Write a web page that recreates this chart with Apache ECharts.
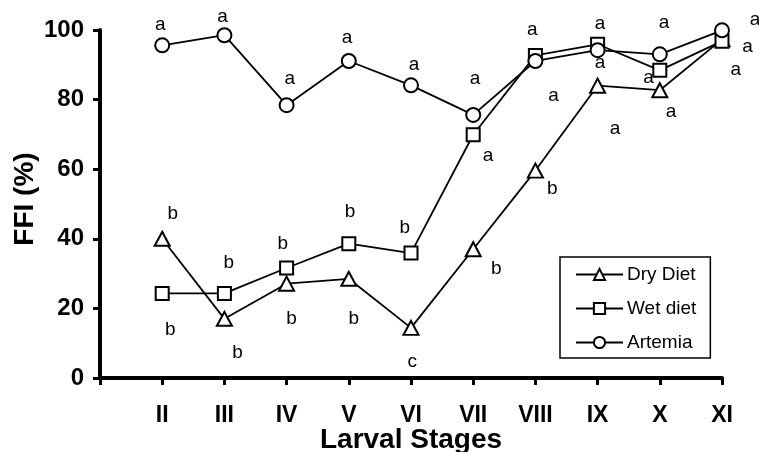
<!DOCTYPE html>
<html>
<head>
<meta charset="utf-8">
<script src="https://cdn.jsdelivr.net/npm/echarts@6/dist/echarts.min.js"></script>
<style>html,body{margin:0;padding:0;background:#fff}#c{width:759px;height:452px}</style>
</head>
<body>
<div id="c"></div>
<script>
var stages = ['II','III','IV','V','VI','VII','VIII','IX','X','XI'];
var stagePos = [2,3,4,5,6,7,8,9,10,11];
var yTicks = [0,20,40,60,80,100];
var dryDiet = [40.0, 17.0, 27.1, 28.5, 14.4, 37.0, 59.6, 84.0, 82.7, 97.3];
var wetDiet = [24.3, 24.3, 31.6, 38.6, 35.9, 69.9, 92.7, 95.9, 88.4, 96.8];
var artemia = [95.6, 98.5, 78.4, 91.1, 84.1, 75.6, 91.1, 94.2, 93.0, 99.9];
// significance letters: [stage position, FFI value, letter]
var letterMarks = [
  [1.97,101.6,'a'],[2.97,103.7,'a'],[4.05,86.1,'a'],[4.97,97.8,'a'],[6.05,90.1,'a'],
  [7.03,85.9,'a'],[7.95,100.1,'a'],[9.04,101.8,'a'],[9.04,90.5,'a'],[10.07,102.0,'a'],
  [9.82,86.2,'a'],[11.53,102.8,'a'],[11.41,95.1,'a'],[11.22,88.5,'a'],[7.24,63.8,'a'],
  [8.29,81.1,'a'],[9.28,71.5,'a'],[10.18,76.5,'a'],
  [8.27,54.5,'b'],[7.37,31.3,'b'],[5.90,43.1,'b'],[6.02,4.8,'c'],[2.17,47.3,'b'],
  [5.02,47.9,'b'],[3.94,38.6,'b'],[3.07,33.2,'b'],[2.13,13.8,'b'],[3.21,7.2,'b'],
  [4.08,17.0,'b'],[5.08,17.0,'b']
];

function pair(vals){ return vals.map(function(v,i){ return [stagePos[i], v]; }); }
var FONT = 'Liberation Sans, Arial, sans-serif';
var chart = echarts.init(document.getElementById('c'));
var lineCommon = {
  type:'line', symbolSize:14, showSymbol:true,
  lineStyle:{color:'#000', width:1.8},
  itemStyle:{color:'#fff', borderColor:'#000', borderWidth:2},
  emphasis:{disabled:true}, animation:false
};
chart.setOption({
  backgroundColor:'#fff',
  animation:false,
  grid:{left:100, right:37, top:30, bottom:74, containLabel:false, outerBoundsMode:'none'},
  legend:{
    orient:'vertical', left:560, top:257,
    padding:[8,14,6,15], itemGap:15, itemWidth:47, itemHeight:14,
    borderColor:'#000', borderWidth:1.5, backgroundColor:'#fff',
    textStyle:{fontFamily:FONT, fontSize:19, color:'#000', padding:[0,0,0,-1]},
    data:['Dry Diet','Wet diet','Artemia']
  },
  xAxis:{
    type:'value', min:1, max:11, interval:1,
    name:'Larval Stages', nameLocation:'middle', nameGap:48, nameMoveOverlap:false,
    nameTextStyle:{fontFamily:FONT, fontSize:28, fontWeight:'bold', color:'#000'},
    axisLine:{show:true, lineStyle:{color:'#000', width:4}},
    axisTick:{show:true, length:7, lineStyle:{color:'#000', width:3}},
    axisLabel:{fontFamily:FONT, fontSize:23, fontWeight:'bold', color:'#000', margin:26,
      formatter:function(v){ var i = stagePos.indexOf(v); return i>=0 ? stages[i] : ''; }},
    splitLine:{show:false}
  },
  yAxis:{
    type:'value', min:yTicks[0], max:yTicks[yTicks.length-1], interval:20,
    name:'FFI (%)', nameLocation:'middle', nameGap:61, nameRotate:90, nameMoveOverlap:false,
    nameTextStyle:{fontFamily:FONT, fontSize:28, fontWeight:'bold', color:'#000', padding:[0,0,0,10]},
    axisLine:{show:true, lineStyle:{color:'#000', width:4}},
    axisTick:{show:true, length:7, lineStyle:{color:'#000', width:3}},
    axisLabel:{fontFamily:FONT, fontSize:24, fontWeight:'bold', color:'#000', margin:16},
    splitLine:{show:false}
  },
  series:[
    Object.assign({}, lineCommon, {name:'Dry Diet', symbol:'triangle', symbolSize:[15,14], data:pair(dryDiet), z:3}),
    Object.assign({}, lineCommon, {name:'Wet diet', symbol:'rect', symbolSize:13, data:pair(wetDiet), z:4}),
    Object.assign({}, lineCommon, {name:'Artemia', symbol:'circle', data:pair(artemia), z:5}),
    {
      type:'scatter', symbolSize:0, clip:false, silent:true, z:6,
      itemStyle:{color:'#000', opacity:1},
      data:letterMarks.map(function(m){ return {value:[m[0], m[1]], name:m[2]}; }),
      label:{show:true, position:'inside', formatter:function(p){ return p.name; },
        fontFamily:FONT, fontSize:19, color:'#000', opacity:1, textBorderWidth:0, textShadowBlur:0},
      emphasis:{disabled:true}
    }
  ]
});
</script>
</body>
</html>
